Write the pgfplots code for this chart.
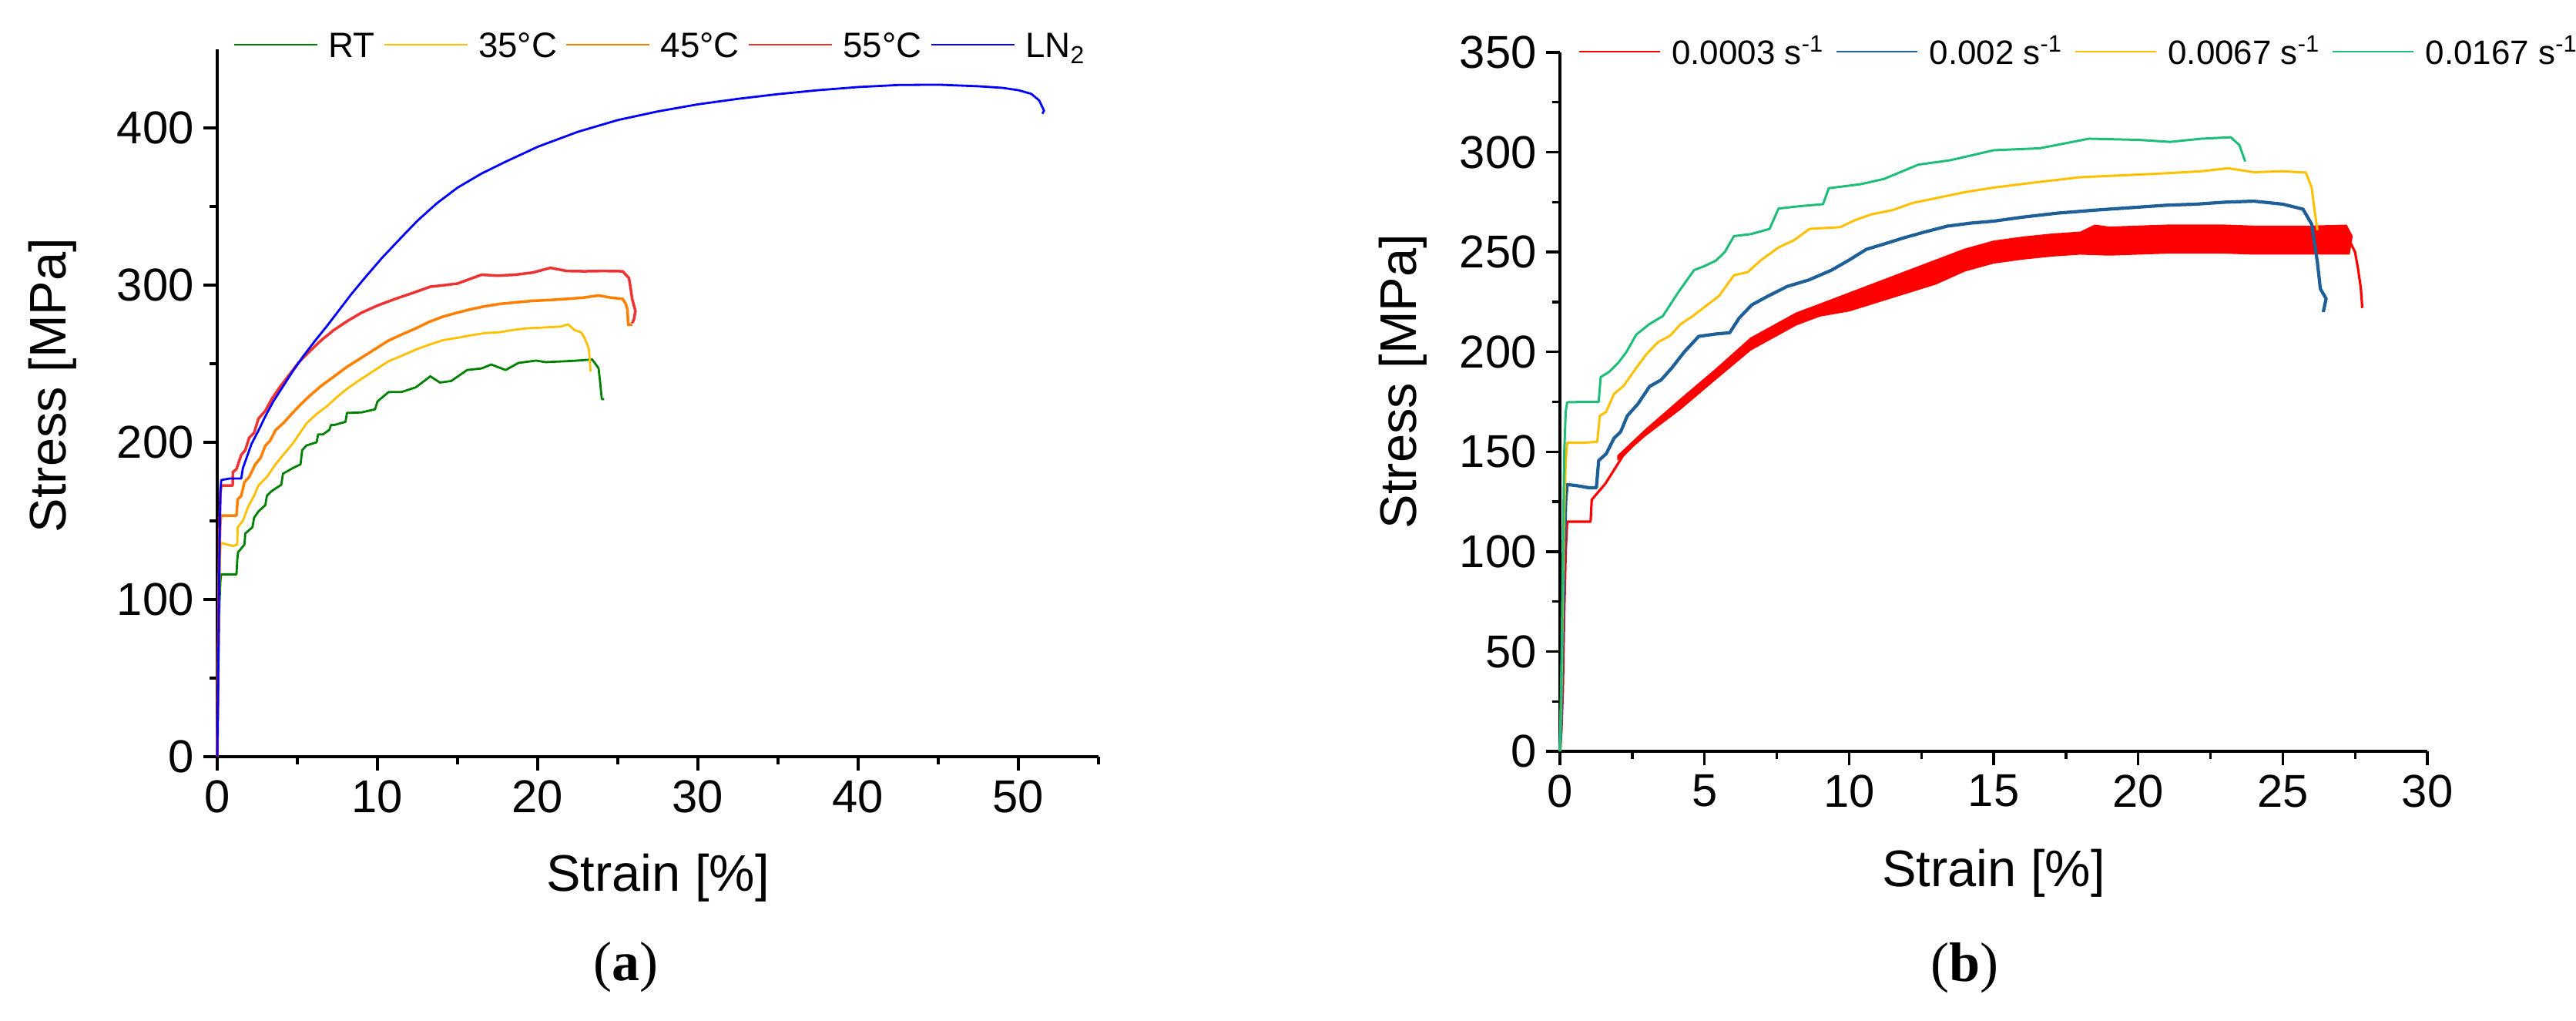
\documentclass[border=0pt]{standalone}
\usepackage{pgfplots}
\pgfplotsset{compat=1.18}
\usepackage{fontspec}
\setmainfont{Liberation Sans}
\newfontfamily\capfont{Liberation Serif}

\definecolor{cRT}{HTML}{008000}
\definecolor{cT35}{HTML}{FFC000}
\definecolor{cT45}{HTML}{FF8000}
\definecolor{cT55}{HTML}{EE3333}
\definecolor{cLN}{HTML}{0000FF}
\definecolor{rA}{HTML}{FF0000}
\definecolor{rB}{HTML}{1F5F98}
\definecolor{rC}{HTML}{FFC000}
\definecolor{rD}{HTML}{1EBE78}

\pgfplotsset{
  myaxis/.style={
    scale only axis,
    axis lines=left,
    axis line style={line width=0.95pt,-},
    every tick/.style={line width=0.95pt,black},
    tick align=outside,
    major tick length=0.18cm,
    minor tick length=0.10cm,
    ticklabel style={font=\fontsize{17}{17}\selectfont},
    /pgf/number format/assume math mode=true,
    label style={font=\fontsize{19}{19}\selectfont},
    clip=false,
    legend columns=-1,
    every axis plot/.append style={line join=round},
  },
}

\begin{document}
\begin{tikzpicture}
\useasboundingbox (0,0) rectangle (33.44,13.24);

% ---------------- (a) ----------------
\begin{axis}[myaxis,
  at={(2.82cm,3.42cm)}, anchor=south west,
  width=11.44cm, height=9.18cm,
  xmin=0, xmax=55, ymin=0, ymax=450,
  xtick={0,10,...,50}, ytick={0,100,...,400},
  minor x tick num=1, minor y tick num=1,
  extra x ticks={55}, extra x tick style={major tick length=0.10cm, xticklabel=\empty},
  xlabel={Strain [\%]}, ylabel={Stress [MPa]},
  xlabel style={at={(axis description cs:0.5,-0.19)}, anchor=base},
  ylabel style={at={(axis description cs:-0.187,0.525)}, anchor=center},
  legend image code/.code={\draw[#1, line width=0.75pt] (0cm,0cm) -- (1.08cm,0cm);},
  legend style={draw=none, fill=none, inner sep=0pt,
    font=\fontsize{13}{13}\selectfont,
    nodes={inner sep=0pt, text height=0.33cm, text depth=0pt},
    column sep=0pt,
    /tikz/every odd column/.append style={column sep=0.13cm},
    /tikz/every even column/.append style={column sep=0.11cm},
    at={(axis description cs:0.0175,1.0065)}, anchor=west},
]
\addplot[cRT, line width=0.8pt] coordinates {
(0,0) (0.05,40) (0.1,80) (0.15,100) (0.2,112) (0.25,116) (0.6,116) (1.2,116) (1.25,125) (1.3,130)
(1.7,135) (1.75,142) (2.2,146) (2.3,152) (2.57,156) (3.0,160) (3.1,166) (3.4,169) (4.0,173) (4.1,180)
(4.7,183.5) (5.2,186) (5.3,195) (5.57,198) (6.2,200) (6.3,205) (6.6,205) (7.0,208) (7.1,211) (7.3,211)
(8.0,213) (8.1,218.7) (9.0,219) (9.85,221) (10.0,226) (10.7,232) (11.5,232) (12.4,235) (13.3,242) (13.9,238)
(14.6,239) (15.6,246) (16.5,247) (17.1,249.5) (18,246) (18.8,250.5) (19.9,252) (20.5,251) (21.8,251.6)
(22.5,252) (23.4,252.7) (23.6,250) (23.8,247) (23.9,238) (24.0,227.5) (24.15,227.5)};
\addlegendentry{RT}
\addplot[cT35, line width=0.8pt] coordinates {
(0,0) (0.05,45) (0.1,90) (0.15,120) (0.2,133) (0.25,136) (0.6,135) (1.0,134) (1.25,135) (1.28,146)
(1.6,150) (1.93,159) (2.3,166) (2.57,172.5) (3.1,178) (3.64,186) (4.2,193) (4.7,199) (5.1,205) (5.57,212)
(6.2,218) (6.85,223) (7.5,229) (8.1,234) (8.8,239) (9.4,243) (10.0,247) (10.7,251.6) (11.5,255) (12.4,259)
(13.2,262) (14.1,265) (15.0,266.5) (15.8,268) (16.7,269.5) (17.6,270) (18.5,271.5) (19.3,272.5) (20.3,273)
(21.4,273.6) (21.9,275) (22.3,271.4) (22.7,270) (22.9,267) (23.1,262) (23.2,259) (23.3,245)};
\addlegendentry{35°C}
\addplot[cT45, line width=1.0pt] coordinates {
(0,0) (0.05,50) (0.1,100) (0.15,135) (0.2,150) (0.25,153.4) (0.8,153.4) (1.2,153.4) (1.28,163.7) (1.5,166)
(1.7,174.7) (2.0,178) (2.36,185.7) (2.7,190) (3.0,197.8) (3.3,201) (3.64,207.7) (4.2,213) (4.7,218.7)
(5.2,224) (5.78,229.7) (6.5,236) (7.28,241.8) (8.1,248) (9.0,253.8) (9.8,259) (10.7,264.8) (11.5,268.5)
(12.4,272.5) (13.2,276.5) (14.1,280) (15.0,282.5) (15.8,284.6) (16.7,286.5) (17.6,288) (18.6,289)
(19.7,290) (20.7,290.5) (21.8,291.2) (22.8,292) (23.8,293.4) (24.6,292) (25.3,291.2) (25.5,288)
(25.6,284.6) (25.65,274.7) (25.9,275)};
\addlegendentry{45°C}
\addplot[cT55, line width=1.0pt] coordinates {
(0,0) (0.05,55) (0.1,110) (0.15,150) (0.2,168) (0.25,172.5) (0.6,172.5) (0.96,172.5) (0.98,181) (1.2,183)
(1.5,192) (1.75,195) (2.0,203) (2.3,206) (2.57,215) (3.0,220) (3.4,227.5) (3.9,235) (4.5,243) (5.1,251)
(5.78,258) (6.5,265) (7.28,271.4) (8.1,277) (9.0,282.4) (10.0,287) (11.1,291.2) (12.2,295) (13.3,299)
(14.2,300) (15.0,301) (15.8,304) (16.5,306.6) (17.5,306) (18.6,306.6) (19.7,308) (20.8,311) (21.8,309)
(22.9,308.8) (24.1,309) (25.3,308.8) (25.7,304.4) (25.8,298) (25.9,291) (26.1,283.5) (26.0,278) (25.9,275.8)};
\addlegendentry{55°C}
\addplot[cLN, line width=0.8pt] coordinates {
(0,0) (0.05,40) (0.1,90) (0.15,140) (0.2,170) (0.25,176) (0.8,177) (1.5,177) (1.6,183.5) (2.14,199)
(2.6,208) (3.0,216.5) (3.5,226) (4.07,235) (4.7,245) (5.35,254.5) (6.1,264.5) (6.85,274) (7.6,284)
(8.35,294) (9.2,304.5) (10.3,317.5) (11.46,330) (12.5,341) (13.7,352) (15,362) (16.5,371) (18,378.5)
(20,388) (22.5,397.5) (25,405) (27.5,410.5) (30,415) (32.5,418.5) (35,421.5) (37.5,424) (40,426)
(42.5,427.3) (45,427.5) (47.5,426.5) (49,425.5) (50,424) (50.8,421.7) (51.3,417.5) (51.6,411) (51.5,409)};
\addlegendentry{LN\textsubscript{2}}
\node[font=\capfont\fontsize{20.5}{20.5}\selectfont] at (axis description cs:0.464,-0.298) {(\textbf{a})};
\end{axis}

% ---------------- (b) ----------------
\begin{axis}[myaxis,
  at={(20.25cm,3.49cm)}, anchor=south west,
  width=11.26cm, height=9.07cm,
  xmin=0, xmax=30, ymin=0, ymax=350,
  xtick={0,5,...,30}, ytick={0,50,...,350},
  minor x tick num=1, minor y tick num=1,
  xlabel={Strain [\%]}, ylabel={Stress [MPa]},
  xlabel style={at={(axis description cs:0.5,-0.193)}, anchor=base},
  ylabel style={at={(axis description cs:-0.181,0.529)}, anchor=center},
  legend image code/.code={\draw[#1, line width=0.75pt] (0cm,0cm) -- (1.05cm,0cm);},
  legend style={draw=none, fill=none, inner sep=0pt,
    font=\fontsize{12.5}{12.5}\selectfont,
    nodes={inner sep=0pt, text height=0.32cm, text depth=0pt},
    column sep=0pt,
    /tikz/every odd column/.append style={column sep=0.14cm},
    /tikz/every even column/.append style={column sep=0.15cm},
    at={(axis description cs:0.0204,1.001)}, anchor=west},
]
% noisy band of the slowest test
\addplot[rA, fill=rA, line width=0.4pt, forget plot] coordinates {
(2.0,148) (2.95,161) (4.18,176.5) (5.4,191.5) (6.6,207) (8.17,219.5) (9,224) (10,229.5)
(11,235) (12,240.5) (13,246) (14,251.5) (15,255.5) (16,257.5) (17,259) (18,260) (18.5,263.5) (19,262.5)
(20,263) (21,263.5) (22,263.5) (23,263.5) (24,263) (25,263) (26,263) (27.2,263.5) (27.4,258)
(27.3,249) (26,249) (25,249) (24,249) (23,249.5) (22,249.5) (21,249.5) (20,249) (19,248.5) (18,249)
(17,248) (16,246.5) (15,244.5) (14,240.5) (13,234) (12,229.5) (11,225) (10,220.5) (9,218) (8.17,213.5)
(6.6,201) (5.4,186.5) (4.18,171.5) (2.95,158) (2.0,146)} -- cycle;
\addplot[rA, line width=0.9pt] coordinates {
(0,0) (0.05,10) (0.1,30) (0.15,70) (0.2,100) (0.25,115) (0.6,115) (1.06,115) (1.1,126) (1.57,134)
(2.18,148) (2.95,159.5) (3.5,167) (4.18,174) (4.8,181) (5.4,189) (6.0,197) (6.6,204) (7.4,211)
(8.17,216.5) (9.0,221) (10,225) (11,230) (12,235) (13,240) (14,246) (15,250) (16,252) (17,253.5)
(18,254.5) (19,255.5) (20,256) (21,256.5) (22,256.5) (23,256.5) (24,256) (25,256) (26,256) (27.3,256)
(27.5,250) (27.6,242) (27.7,232) (27.75,222)};
\addlegendentry{0.0003 s\textsuperscript{-1}}
\addplot[rB, line width=1.2pt] coordinates {
(0,0) (0.05,20) (0.1,60) (0.15,100) (0.2,125) (0.25,133.6) (0.6,133) (1.0,132) (1.26,132) (1.34,145.6)
(1.6,149) (1.87,156.8) (2.1,160) (2.33,168) (2.7,174) (3.1,182.7) (3.5,186) (3.87,192) (4.3,200)
(4.8,207.8) (5.4,209) (5.87,209.6) (6.2,217) (6.64,223.6) (7.2,228) (7.86,232.8) (8.6,236) (9.4,241)
(10.0,246) (10.6,251.4) (11.2,254) (11.86,257) (12.6,260) (13.4,263) (14.2,264.5) (15,265.5) (16,267.5)
(17.2,269.5) (18.5,271) (20,272.5) (21,273.5) (22,274) (23,275) (24,275.5) (25,274) (25.7,271.5)
(26,264) (26.2,244.7) (26.3,231.6) (26.5,226.7) (26.4,220)};
\addlegendentry{0.002 s\textsuperscript{-1}}
\addplot[rC, line width=0.85pt] coordinates {
(0,0) (0.05,30) (0.1,80) (0.15,120) (0.2,145) (0.25,154.5) (0.8,154.5) (1.29,155) (1.38,168) (1.6,170)
(1.87,179) (2.2,183) (2.64,192) (3.0,199) (3.4,205) (3.8,208) (4.18,214) (4.6,218) (5.1,223.6) (5.5,228)
(6.02,238.4) (6.5,240) (6.94,245.8) (7.56,252.3) (8.1,256) (8.63,261.6) (9.7,262.5) (10.2,266) (10.8,269)
(11.5,271) (12.2,274.6) (13.0,277) (14.0,280) (15,282.3) (16.5,285) (18,287.5) (20,288.8) (21,289.5)
(22.2,290.5) (23.1,292) (24,290) (25,290.5) (25.8,289.8) (26,282.3) (26.1,270.9) (26.2,261)};
\addlegendentry{0.0067 s\textsuperscript{-1}}
\addplot[rD, line width=0.85pt] coordinates {
(0,0) (0.05,40) (0.1,100) (0.15,150) (0.2,170) (0.25,174.8) (0.8,175) (1.34,175) (1.41,187.4) (1.7,190)
(2.03,194.8) (2.3,200) (2.64,208.7) (3.1,214) (3.56,218) (4.1,230) (4.64,241) (5.0,243) (5.4,245.8)
(5.7,250) (6.02,258) (6.6,259) (7.25,261.6) (7.56,271.8) (8.3,273) (9.1,274) (9.3,282) (10.4,284)
(11.2,286.6) (12.4,293.8) (13.5,296) (15,301) (16.6,302) (18.3,306.8) (20,306.2) (21.1,305.2)
(22.2,306.8) (23.2,307.5) (23.5,303.6) (23.7,295.4)};
\addlegendentry{0.0167 s\textsuperscript{-1}}
\node[font=\capfont\fontsize{20.5}{20.5}\selectfont] at (axis description cs:0.467,-0.31) {(\textbf{b})};
\end{axis}
\end{tikzpicture}
\end{document}
